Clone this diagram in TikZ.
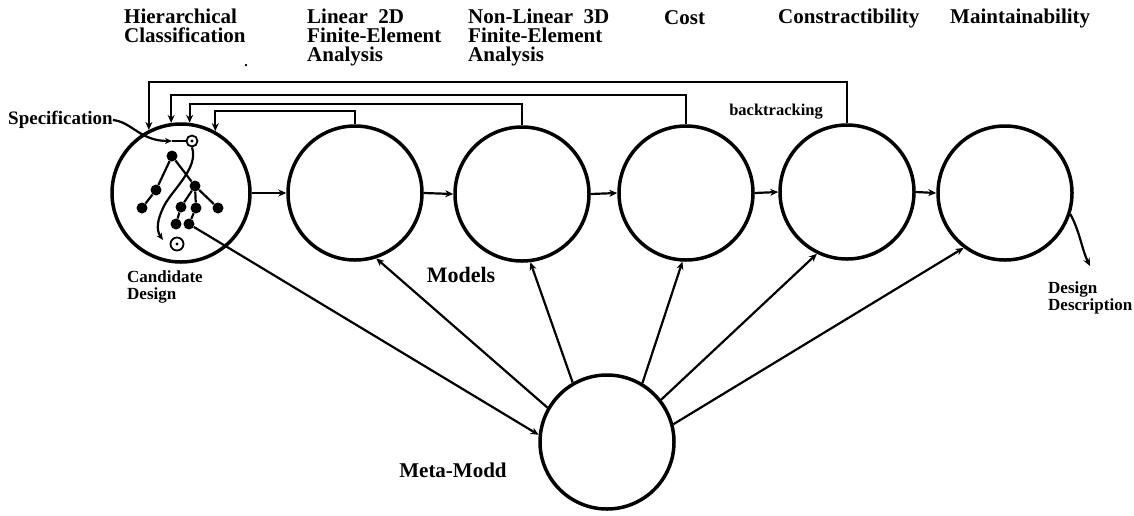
\documentclass[tikz,border=0pt]{standalone}
\usepackage{fontspec}
\setmainfont{Liberation Serif}
\usetikzlibrary{arrows.meta}
\begin{document}
\begin{tikzpicture}[x=1pt,y=-1pt,
  model/.style={draw,circle,line width=3.5pt,minimum size=134pt,inner sep=0pt},
  conn/.style={line width=2.2pt,-{Stealth[length=8pt,width=7pt]}},
  plain/.style={line width=2.2pt},
  tnode/.style={circle,fill,inner sep=0pt,minimum size=11pt},
  rnode/.style={circle,draw,line width=1.8pt,inner sep=0pt,minimum size=11pt,
     path picture={\fill (path picture bounding box.center) circle (1.6pt);}},
  tedge/.style={line width=2.2pt},
  toplabel/.style={anchor=north west,inner sep=0pt,align=left,
     font=\fontsize{21}{19}\selectfont\bfseries},
  smalllabel/.style={inner sep=0pt,align=left,
     font=\fontsize{17}{17}\selectfont\bfseries}
]
\useasboundingbox (0,0) rectangle (1134,515);

% top labels
\node[toplabel] (l1) at (124,9) {Hierarchical\\Classification};
\node[toplabel] (l2) at (307,9) {Linear\ \ 2D\\Finite-Element\\Analysis};
\node[toplabel] (l3) at (468,9) {Non-Linear\ \ 3D\\Finite-Element\\Analysis};
\node[toplabel] (l4) at (664,10) {Cost};
\node[toplabel] (l5) at (778,9) {Constractibility};
\node[toplabel] (l6) at (950,9) {Maintainability};
\node[inner sep=0pt,font=\fontsize{14}{14}\selectfont\bfseries] (dot) at (246,66) {.};

% model circles
\node[model,minimum size=138pt] (c1) at (181,193) {};
\node[model] (c2) at (355,193) {};
\node[model] (c3) at (522,194) {};
\node[model] (c4) at (686,193) {};
\node[model] (c5) at (847,192) {};
\node[model] (c6) at (1005,193) {};
\node[model] (meta) at (607,442) {};

% chain arrows
\draw[conn] (c1.east) -- (c2.west);
\draw[conn] (c2.east) -- (c3.west);
\draw[conn] (c3.east) -- (c4.west);
\draw[conn] (c4.east) -- (c5.west);
\draw[conn] (c5.east) -- (c6.west);

% backtracking
\coordinate (y1) at (0,82);
\coordinate (y2) at (0,95);
\coordinate (y3) at (0,104);
\coordinate (y4) at (0,111);
\draw[conn] (c5.north) |- (y1 -| c1.117) -- (c1.117);
\draw[conn] (c4.north) |- (y2 -| c1.98) -- (c1.98);
\draw[conn] (c3.north) |- (y3 -| c1.83) -- (c1.83);
\draw[conn] (c2.north) |- (y4 -| c1.61) -- (c1.61);
\node[inner sep=0pt,font=\fontsize{16.5}{16.5}\selectfont\bfseries] (bt) at (776,112) {backtracking};

% tree inside candidate design
\node[rnode] (R0) at (192,141) {};
\node[tnode] (N1) at (172,156) {};
\node[tnode] (N2) at (156,190) {};
\node[tnode] (N3) at (142,208) {};
\node[tnode] (N4) at (195,186) {};
\node[tnode] (N5) at (218,208) {};
\node[tnode] (N6) at (181,207) {};
\node[tnode] (N7) at (196,208) {};
\node[tnode] (N8) at (176,224) {};
\node[tnode] (N9) at (189,224) {};
\node[rnode,minimum size=13pt] (R1) at (177,244) {};
\draw[tedge] (N1) -- (N2) -- (N3);
\draw[tedge] (N1) -- (N4) -- (N5);
\draw[tedge] (N4) -- (N7) -- (N9);
\draw[tedge] (N4) -- (N6) -- (N8);
\coordinate (rt) at (163,240);
\draw[tedge,-{Stealth[length=7pt,width=6pt]}] (R0.south) .. controls (199,168) and (172,190) .. (164,206) .. controls (157,220) and (156,230) .. (rt);

% specification
\node[inner sep=0pt,anchor=west,font=\fontsize{19}{19}\selectfont\bfseries] (spec) at (8,120) {Specification};
\coordinate (sa) at (172,141);
\draw[tedge,-{Stealth[length=7pt,width=6pt]}] (spec.east) .. controls (132,122) and (140,141) .. (sa);
\draw[tedge] (sa) -- (R0.west);

% meta-model connections
\draw[conn] (N9) -- (meta.174);
\draw[conn] (meta.150) -- (c2.-72);
\draw[conn] (meta.120) -- (c3.-83);
\draw[conn] (meta.59) -- (c4.-93);
\draw[conn] (meta.38) -- (c5.-116);
\draw[conn] (meta.15) -- (c6.-127);

% design description
\coordinate (ddtip) at (1090,266);
\draw[conn] (c6.-18) .. controls (1080,232) and (1082,250) .. (ddtip);

% labels
\node[smalllabel,anchor=north west] (cand) at (127,270) {Candidate\\Design};
\node[smalllabel,anchor=north west] (dd) at (1048,281) {Design\\Description};
\node[inner sep=0pt,font=\fontsize{22}{22}\selectfont\bfseries] (models) at (461,275) {Models};
\node[inner sep=0pt,font=\fontsize{21}{21}\selectfont\bfseries] (mm) at (453,470) {Meta-Modd};
\end{tikzpicture}
\end{document}
